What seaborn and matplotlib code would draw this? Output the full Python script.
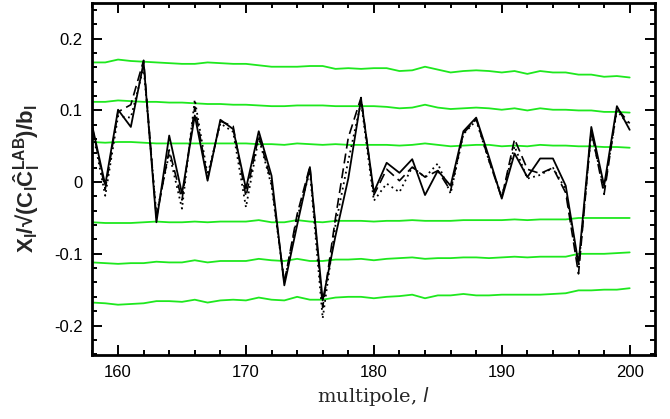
import numpy as np
import pandas as pd
import matplotlib
matplotlib.use("Agg")
from matplotlib import pyplot as plt
from matplotlib.ticker import MultipleLocator, FixedLocator, FixedFormatter
import seaborn as sns

# multipoles
ell = list(range(158, 201))

# black curves (three estimates)
x_solid = [0.077, -0.004, 0.101, 0.077, 0.167, -0.056, 0.065, -0.016, 0.093, 0.002,
           0.087, 0.074, -0.009, 0.071, 0.009, -0.144, -0.060, 0.021, -0.165, -0.075,
           0.005, 0.116, -0.014, 0.027, 0.013, 0.032, -0.018, 0.016, -0.005, 0.071,
           0.090, 0.035, -0.023, 0.040, 0.007, 0.033, 0.033, -0.005, -0.114, 0.077,
           -0.005, 0.106, 0.073]
x_dashed = [0.075, -0.010, 0.098, 0.108, 0.170, -0.050, 0.045, -0.025, 0.105, 0.005,
            0.085, 0.078, -0.020, 0.065, 0.000, -0.140, -0.045, 0.022, -0.175, -0.050,
            0.062, 0.118, -0.018, 0.018, 0.002, 0.021, 0.007, 0.016, -0.012, 0.068,
            0.088, 0.030, -0.022, 0.060, 0.018, 0.012, 0.020, -0.015, -0.128, 0.072,
            -0.017, 0.103, 0.082]
x_dotted = [0.072, -0.019, 0.092, 0.090, 0.160, -0.045, 0.040, -0.037, 0.115, 0.010,
            0.082, 0.070, -0.035, 0.062, -0.005, -0.140, -0.050, 0.015, -0.190, -0.060,
            0.030, 0.112, -0.026, -0.002, -0.014, 0.021, 0.007, 0.026, -0.016, 0.067,
            0.086, 0.030, -0.020, 0.050, 0.005, 0.010, 0.020, -0.010, -0.120, 0.070,
            -0.010, 0.100, 0.078]

# green envelopes (+/- 1, 2, 3 sigma)
g_p3 = [0.167, 0.167, 0.171, 0.169, 0.168, 0.167, 0.166, 0.165, 0.165, 0.167,
        0.166, 0.165, 0.165, 0.163, 0.161, 0.161, 0.161, 0.162, 0.162, 0.158,
        0.159, 0.158, 0.159, 0.159, 0.155, 0.156, 0.161, 0.157, 0.153, 0.155,
        0.156, 0.155, 0.153, 0.155, 0.151, 0.155, 0.153, 0.153, 0.150, 0.150,
        0.147, 0.148, 0.146]
g_p2 = [0.112, 0.112, 0.114, 0.113, 0.112, 0.112, 0.111, 0.111, 0.110, 0.109,
        0.109, 0.108, 0.108, 0.107, 0.106, 0.106, 0.107, 0.107, 0.107, 0.106,
        0.106, 0.106, 0.106, 0.105, 0.103, 0.104, 0.108, 0.104, 0.102, 0.103,
        0.104, 0.103, 0.101, 0.103, 0.100, 0.103, 0.101, 0.101, 0.100, 0.100,
        0.098, 0.098, 0.097]
g_p1 = [0.056, 0.055, 0.056, 0.056, 0.055, 0.054, 0.054, 0.054, 0.054, 0.054,
        0.054, 0.054, 0.054, 0.053, 0.053, 0.052, 0.054, 0.053, 0.052, 0.053,
        0.052, 0.052, 0.052, 0.052, 0.051, 0.052, 0.054, 0.052, 0.050, 0.051,
        0.052, 0.052, 0.050, 0.051, 0.050, 0.052, 0.051, 0.051, 0.050, 0.050,
        0.049, 0.049, 0.048]
g_m1 = [-0.056, -0.057, -0.057, -0.057, -0.056, -0.055, -0.056, -0.056, -0.055, -0.056,
        -0.055, -0.055, -0.055, -0.053, -0.056, -0.056, -0.053, -0.055, -0.056, -0.054,
        -0.054, -0.054, -0.055, -0.054, -0.054, -0.053, -0.054, -0.054, -0.054, -0.053,
        -0.053, -0.053, -0.053, -0.052, -0.053, -0.052, -0.052, -0.052, -0.050, -0.050,
        -0.050, -0.050, -0.050]
g_m2 = [-0.112, -0.113, -0.114, -0.113, -0.113, -0.111, -0.112, -0.112, -0.109, -0.112,
        -0.110, -0.110, -0.110, -0.107, -0.109, -0.110, -0.107, -0.110, -0.110, -0.108,
        -0.108, -0.107, -0.109, -0.107, -0.106, -0.105, -0.107, -0.106, -0.106, -0.105,
        -0.105, -0.106, -0.105, -0.104, -0.105, -0.104, -0.104, -0.104, -0.100, -0.100,
        -0.100, -0.099, -0.098]
g_m3 = [-0.168, -0.169, -0.171, -0.170, -0.169, -0.166, -0.166, -0.167, -0.164, -0.168,
        -0.165, -0.164, -0.165, -0.161, -0.164, -0.165, -0.160, -0.164, -0.164, -0.161,
        -0.160, -0.160, -0.162, -0.160, -0.159, -0.157, -0.162, -0.158, -0.158, -0.156,
        -0.158, -0.158, -0.157, -0.157, -0.157, -0.157, -0.156, -0.155, -0.151, -0.151,
        -0.150, -0.150, -0.148]

y_ticks = [-0.2, -0.1, 0.0, 0.1, 0.2]
y_ticklabels = ["-0.2", "-0.1", "0", "0.1", "0.2"]
x_ticks = [160, 170, 180, 190, 200]

GREEN = "#1ee81e"

sns.set_style("ticks")
plt.rcParams["font.family"] = ["Liberation Sans", "DejaVu Sans"]
plt.rcParams["mathtext.default"] = "regular"

fig, ax = plt.subplots(figsize=(6.7, 4.19), dpi=100)
fig.subplots_adjust(left=0.138, right=0.978, top=0.993, bottom=0.153)

for g in [g_p3, g_p2, g_p1, g_m1, g_m2, g_m3]:
    sns.lineplot(x=ell, y=g, ax=ax, color=GREEN, lw=1.3, estimator=None, sort=False)

sns.lineplot(x=ell, y=x_dotted, ax=ax, color="k", lw=1.3, linestyle=(0, (1, 2)),
             estimator=None, sort=False)
sns.lineplot(x=ell, y=x_dashed, ax=ax, color="k", lw=1.2, linestyle=(0, (6, 3)),
             estimator=None, sort=False)
sns.lineplot(x=ell, y=x_solid, ax=ax, color="k", lw=1.3, estimator=None, sort=False)

ax.set_xlim(158, 202)
ax.set_ylim(-0.241, 0.25)
ax.xaxis.set_major_locator(FixedLocator(x_ticks))
ax.xaxis.set_minor_locator(MultipleLocator(2))
ax.yaxis.set_major_locator(FixedLocator(y_ticks))
ax.yaxis.set_major_formatter(FixedFormatter(y_ticklabels))
ax.yaxis.set_minor_locator(MultipleLocator(0.02))

ax.tick_params(which="both", direction="in", top=True, right=True, width=1.4,
               labelsize=12, colors="k")
ax.tick_params(which="major", length=7.5, pad=7)
ax.tick_params(which="minor", length=3.5)
for s in ax.spines.values():
    s.set_linewidth(2.0)
    s.set_color("k")

ax.set_xlabel("multipole, $\\it{l}$", family="DejaVu Serif", fontsize=14, labelpad=4)
ax.set_ylabel("X$_l$/√(C$_l$Ĉ$_l^{LAB}$)/b$_l$", fontsize=16, fontweight="bold",
              labelpad=9)

fig.savefig("out.png", dpi=100)
